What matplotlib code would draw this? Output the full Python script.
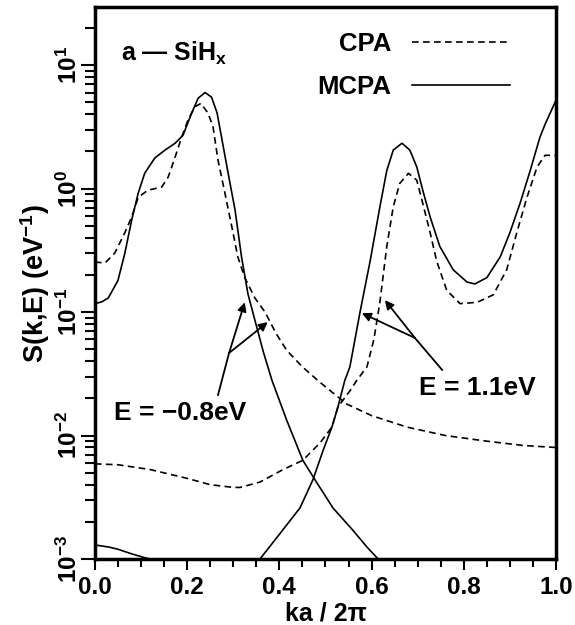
import numpy as np
import matplotlib
matplotlib.use("Agg")
import matplotlib.pyplot as plt
from matplotlib.ticker import LogLocator, MultipleLocator, NullFormatter

plt.rcParams['font.family'] = ['Liberation Sans', 'DejaVu Sans']
plt.rcParams['font.weight'] = 'bold'
plt.rcParams['mathtext.fontset'] = 'custom'
plt.rcParams['mathtext.rm'] = 'Liberation Sans:bold'
plt.rcParams['mathtext.it'] = 'Liberation Sans:bold'
plt.rcParams['mathtext.bf'] = 'Liberation Sans:bold'

# E = -0.8 eV, CPA (dashed)
x_cpa_a = [0.0, 0.022, 0.043, 0.065, 0.08, 0.094, 0.115, 0.145, 0.159, 0.174, 0.188, 0.202,
           0.217, 0.23, 0.245, 0.256, 0.267, 0.282, 0.297, 0.31, 0.325, 0.347, 0.369, 0.392,
           0.416, 0.45, 0.488, 0.546, 0.60, 0.677, 0.76, 0.85, 0.93, 1.0]
y_cpa_a = [0.254, 0.25, 0.30, 0.44, 0.59, 0.85, 0.97, 1.03, 1.24, 1.8, 2.6, 3.6,
           4.6, 4.9, 4.1, 3.2, 1.7, 0.92, 0.49, 0.28, 0.19, 0.13, 0.10, 0.068,
           0.049, 0.036, 0.027, 0.018, 0.0145, 0.0117, 0.0100, 0.0090, 0.0083, 0.0080]

# E = -0.8 eV, MCPA (solid)
x_mcpa_a = [0.0, 0.015, 0.029, 0.05, 0.065, 0.08, 0.094, 0.108, 0.13, 0.152, 0.174, 0.191,
            0.21, 0.224, 0.239, 0.253, 0.265, 0.276, 0.289, 0.304, 0.318, 0.332, 0.347,
            0.365, 0.384, 0.416, 0.451, 0.477, 0.516, 0.56, 0.59, 0.612, 0.63]
y_mcpa_a = [0.117, 0.121, 0.13, 0.18, 0.30, 0.56, 0.92, 1.33, 1.77, 2.05, 2.33, 2.7,
            4.1, 5.4, 6.0, 5.5, 4.1, 2.45, 1.33, 0.67, 0.28, 0.14, 0.086,
            0.048, 0.028, 0.0133, 0.0063, 0.0044, 0.0026, 0.0017, 0.00125, 0.00102, 0.00095]

# E = 1.1 eV, CPA (dashed)
x_cpa_b = [0.0, 0.05, 0.12, 0.2, 0.25, 0.30, 0.315, 0.358, 0.408, 0.451, 0.488, 0.514,
           0.527, 0.553, 0.568, 0.59, 0.605, 0.618, 0.633, 0.647, 0.661, 0.68, 0.698, 0.711,
           0.727, 0.741, 0.763, 0.792, 0.829, 0.864, 0.893, 0.915, 0.937, 0.959, 0.976, 1.0]
y_cpa_b = [0.0059, 0.0058, 0.0053, 0.0045, 0.0040, 0.0038, 0.0038, 0.0042, 0.0053, 0.0063,
           0.0087, 0.0117, 0.017, 0.023, 0.028, 0.036, 0.06, 0.12, 0.34, 0.71, 1.1, 1.33,
           1.17, 0.76, 0.44, 0.26, 0.15, 0.117, 0.12, 0.138, 0.22, 0.44, 0.85, 1.5, 1.86,
           1.86]

# E = 1.1 eV, MCPA (solid)
x_mcpa_b = [0.0, 0.03, 0.05, 0.08, 0.11, 0.13, 0.2, 0.3, 0.358, 0.401, 0.445, 0.473, 0.495,
            0.514, 0.527, 0.542, 0.553, 0.575, 0.597, 0.618, 0.633, 0.647, 0.666, 0.683,
            0.698, 0.711, 0.727, 0.748, 0.777, 0.807, 0.824, 0.85, 0.879, 0.90, 0.922,
            0.944, 0.965, 0.976, 1.0]
y_mcpa_b = [0.0013, 0.00125, 0.0012, 0.0011, 0.00102, 0.00098, 0.0009, 0.0009, 0.001,
            0.0016, 0.0026, 0.0044, 0.0076, 0.0117, 0.017, 0.028, 0.036, 0.10, 0.26, 0.71,
            1.4, 2.05, 2.33, 2.05, 1.5, 0.97, 0.59, 0.34, 0.22, 0.175, 0.169, 0.19, 0.28,
            0.44, 0.76, 1.4, 2.6, 3.3, 5.2]

# annotation arrows: base, vertex, tip1, tip2
arrow_a = [(0.267, 0.0213), (0.291, 0.0466), (0.325, 0.120), (0.375, 0.083)]
arrow_b = [(0.753, 0.034), (0.694, 0.0617), (0.629, 0.125), (0.579, 0.098)]
label_a = (0.184, 0.0152)
label_b = (0.829, 0.0243)

fig = plt.figure(figsize=(5.75, 6.25), dpi=100)
ax = fig.add_axes([0.165, 0.1056, 0.802, 0.883])

dash = (0, (4, 2.6))
l1, = ax.plot(x_cpa_a, y_cpa_a, color='black', lw=1.2, linestyle=dash)
l2, = ax.plot(x_mcpa_a, y_mcpa_a, color='black', lw=1.2)
ax.plot(x_cpa_b, y_cpa_b, color='black', lw=1.2, linestyle=dash)
ax.plot(x_mcpa_b, y_mcpa_b, color='black', lw=1.2)

for arr in (arrow_a, arrow_b):
    base, vert, t1, t2 = arr
    ax.plot([base[0], vert[0]], [base[1], vert[1]], color='black', lw=1.3)
    for t in (t1, t2):
        ax.annotate('', xy=t, xytext=vert,
                    arrowprops=dict(arrowstyle='-|>', color='black', lw=1.3,
                                    mutation_scale=13, shrinkA=0, shrinkB=0))

ax.text(label_a[0], label_a[1], 'E = \u22120.8eV', fontsize=19, fontweight='bold',
        ha='center', va='center')
ax.text(label_b[0], label_b[1], 'E = 1.1eV', fontsize=19, fontweight='bold',
        ha='center', va='center')
ax.text(0.173, 12.5, 'a \u2014 SiH$_\\mathrm{x}$', fontsize=18, fontweight='bold',
        ha='center', va='center')

leg = ax.legend([l1, l2], ['CPA', 'MCPA'], loc='upper right', bbox_to_anchor=(0.90, 0.955),
                frameon=False, markerfirst=False, handlelength=3.8, handletextpad=0.8,
                labelspacing=0.75, borderpad=0, borderaxespad=0,
                prop={'size': 18.5, 'weight': 'bold'})

ax.set_yscale('log')
ax.set_xlim(0, 1)
ax.set_ylim(1e-3, 29.5)
ax.xaxis.set_major_locator(MultipleLocator(0.2))
ax.xaxis.set_minor_locator(MultipleLocator(0.05))
ax.yaxis.set_major_locator(LogLocator(base=10, numticks=10))
ax.yaxis.set_minor_locator(LogLocator(base=10, subs=np.arange(2, 10), numticks=20))
ax.yaxis.set_minor_formatter(NullFormatter())
ax.set_xticklabels(['%.1f' % v for v in ax.get_xticks()])

ax.tick_params(axis='both', which='both', direction='out', width=1.5, top=False, right=False)
ax.tick_params(axis='x', which='major', length=8, labelsize=17.5, pad=4)
ax.tick_params(axis='x', which='minor', length=6)
ax.tick_params(axis='y', which='major', length=10, labelsize=17.5, pad=-1)
ax.tick_params(axis='y', which='minor', length=7)
for lab in ax.get_yticklabels():
    lab.set_rotation(90)
    lab.set_va('center')

for s in ax.spines.values():
    s.set_linewidth(2.5)

ax.set_xlabel('ka / 2\u03c0', fontsize=18, fontweight='bold', labelpad=2)
ax.set_ylabel('S(k,E) (eV$^{-1}$)', fontsize=19.5, fontweight='bold', labelpad=4)

fig.savefig('out.png', dpi=100)
